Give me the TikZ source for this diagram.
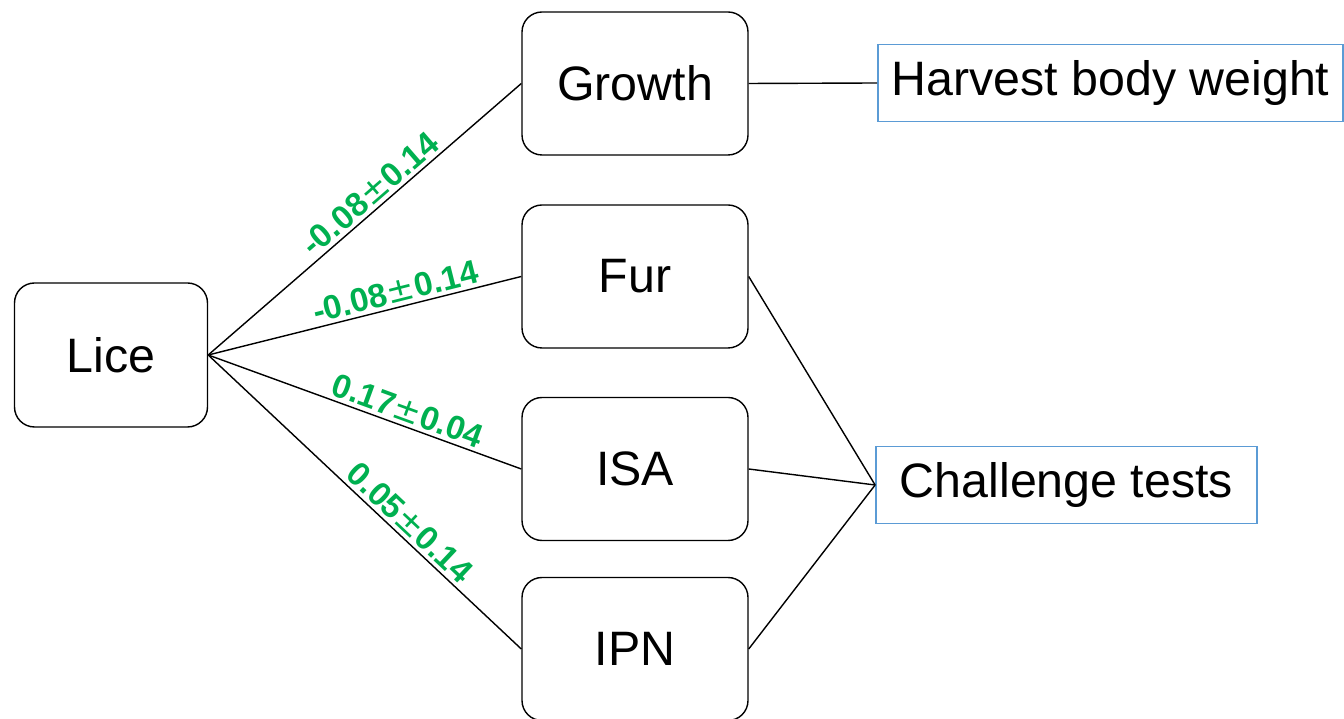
\documentclass[tikz,border=0pt]{standalone}
\usepackage{fontspec}
\setmainfont{Liberation Sans}
\newfontfamily\dejavu{DejaVu Sans}
\definecolor{corrgreen}{HTML}{00B050}
\definecolor{boxblue}{HTML}{5B9BD5}
\newcommand\pmsign{{\dejavu\mdseries ±}}

\begin{document}
\begin{tikzpicture}[
  trait/.style={draw, rounded corners=0.4cm, line width=0.8pt,
    minimum width=4.52cm, minimum height=2.86cm,
    font=\fontsize{27.5}{30}\selectfont},
  outcome/.style={draw=boxblue, line width=1pt, minimum height=1.54cm,
    font=\fontsize{27.5}{30}\selectfont},
  link/.style={line width=0.8pt},
  gcorr/.style={sloped, above, inner sep=2pt, text=corrgreen,
    font=\fontsize{19}{22}\selectfont\bfseries}
]
  \useasboundingbox (0,0) rectangle (26.88,14.38);

  % ── Trait boxes ──
  \node[trait, minimum width=3.86cm, minimum height=2.88cm] (lice) at (2.22,7.28) {Lice};
  \node[trait] (growth) at (12.70,12.71) {Growth};
  \node[trait] (fur)    at (12.70,8.85)  {Fur};
  \node[trait] (isa)    at (12.70,5.00)  {ISA};
  \node[trait] (ipn)    at (12.70,1.40)  {IPN};

  % ── Measured outcomes (blue boxes) ──
  \node[outcome, minimum width=9.3cm]  (harvest)   at (22.21,12.72) {Harvest body weight};
  \node[outcome, minimum width=7.62cm] (challenge) at (21.33,4.68)  {Challenge tests};

  % ── Genetic correlations from lice ──
  \draw[link] (lice.east) -- node[gcorr, pos=0.55] {-0.08\pmsign0.14} (growth.west);
  \draw[link] (lice.east) -- node[gcorr, pos=0.61] {-0.08\pmsign0.14} (fur.west);
  \draw[link] (lice.east) -- node[gcorr, pos=0.62] {0.17\pmsign0.04} (isa.west);
  \draw[link] (lice.east) -- node[gcorr, pos=0.61] {0.05\pmsign0.14} (ipn.west);

  % ── Links to the recorded traits ──
  \draw[link] (growth.east) -- (harvest.west);
  \foreach \t in {fur, isa, ipn}
    \draw[link] (\t.east) -- (challenge.west);
\end{tikzpicture}
\end{document}
